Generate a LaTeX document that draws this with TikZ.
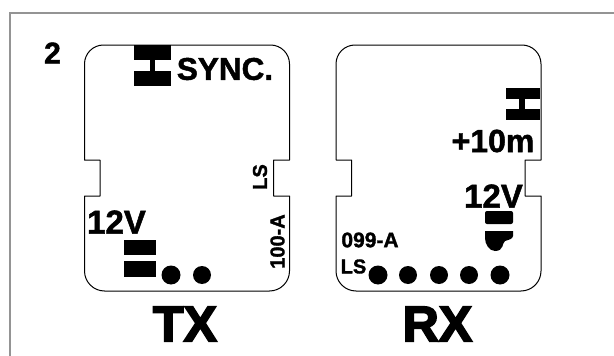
\documentclass[tikz,border=0pt]{standalone}
\usepackage{fontspec}
\setmainfont{Liberation Sans}
\newfontfamily\heavyf[FakeBold=3.5]{Liberation Sans Bold}
\newfontfamily\midf[FakeBold=1.5]{Liberation Sans Bold}
\tikzset{
  x=1pt,y=-1pt,
  board/.style={draw=black,line width=1pt,line join=round},
  frameline/.style={draw=black!42,line width=2.2pt},
  lbl/.style={inner sep=0pt,text=black},
  pad/.style={fill=black,draw=none},
}
\newcommand{\fs}[1]{\fontsize{#1}{#1}\selectfont}
\newcommand{\boardpath}[1]{%
 \draw[board,shift={(#1,0)}] (0,64) .. controls (0,53.5) and (8.5,45) .. (19,45) -- (186,45)
 .. controls (196.5,45) and (205,53.5) .. (205,64) -- (205,160) -- (189,160) -- (189,196) -- (205,196) -- (205,271)
 .. controls (205,282) and (196,291) .. (185,291) -- (20,291)
 .. controls (9,291) and (0,282) .. (0,271) -- (0,196) -- (15.5,196) -- (15.5,160) -- (0,160) -- cycle;}
\begin{document}
\begin{tikzpicture}
\useasboundingbox (0,0) rectangle (614,356);
\fill[white] (0,0) rectangle (614,356);
\draw[frameline] (10,356) -- (10,13) -- (614,13);
\node[lbl,font=\midf\fs{30}] (num) at (52.5,53) {2};
% TX
\boardpath{84.5}
\fill[pad] (134,45) rectangle (171,60);
\fill[pad] (134,71) rectangle (171,86);
\fill[pad] (150,60) rectangle (155,71);
\node[lbl,font=\midf\fs{31.5}] (sync) at (225,69) {SYNC.};
\node[lbl,font=\midf\fs{33}] (v12a) at (116.5,222) {12V};
\fill[pad] (124,240) rectangle (156,255);
\fill[pad] (124,261) rectangle (156,277);
\fill[pad] (171,275) circle (9.5);
\fill[pad] (202,275) circle (9);
\node[lbl,rotate=90,font=\midf\fs{20}] (ls) at (260,177) {LS};
\node[lbl,rotate=90,font=\midf\fs{20}] (a100) at (277.5,241.5) {100-A};
\node[lbl,font=\heavyf\fs{50}] (tx) at (185,324) {TX};
% RX
\boardpath{336}
\fill[pad] (506,88) rectangle (540,99);
\fill[pad] (506,109) rectangle (540,120);
\fill[pad] (519,99) rectangle (525,109);
\node[lbl,font=\midf\fs{32}] (m10) at (493,141) {+10m};
\node[lbl,font=\midf\fs{33}] (v12b) at (493.5,196) {12V};
\fill[pad,rounded corners=2pt] (485,211) rectangle (513,224);
\fill[pad] (485,231) -- (513,231) -- (513,236) .. controls (513,239) and (508,240) .. (505,241) .. controls (502,243) and (504,251) .. (495,251) .. controls (489,251) and (485,244) .. (485,238) -- cycle;
\node[lbl,font=\midf\fs{21}] (a099) at (370,240) {099-A};
\node[lbl,font=\midf\fs{20}] (lsb) at (353.5,266.5) {LS};
\foreach \nx/\r in {378/9.5,408/9,439/9,469/9,500/9.5}{\fill[pad] (\nx,275) circle (\r);}
\node[lbl,font=\heavyf\fs{50}] (rx) at (437.5,324) {RX};
\end{tikzpicture}
\end{document}
